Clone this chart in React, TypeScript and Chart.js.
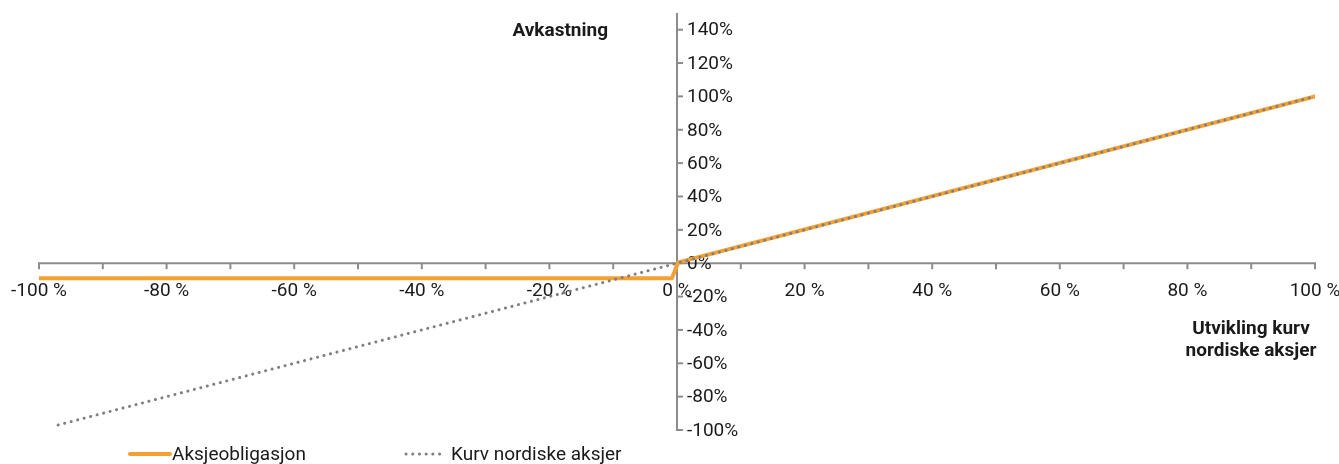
import React, { useEffect, useRef } from "react";
import { Chart, registerables } from "chart.js";

Chart.register(...registerables);

const seriesNames = ["Aksjeobligasjon", "Kurv nordiske aksjer"];
const bondX = [-100, -0.8, 0.2, 100];
const bondY = [-9, -9, 0.5, 100];
const basketX = [-97, 100];
const basketY = [-97, 100];
const xTickMarks = [-100, -90, -80, -70, -60, -50, -40, -30, -20, -10, 0, 10, 20, 30, 40, 50, 60, 70, 80, 90, 100];
const xTickLabels = [-100, -80, -60, -40, -20, 0, 20, 40, 60, 80, 100];
const yTickLabels = [-100, -80, -60, -40, -20, 0, 20, 40, 60, 80, 100, 120, 140];
const yTitle = "Avkastning";
const xTitle = ["Utvikling kurv", "nordiske aksjer"];

const ORANGE = "#F5A033";
const GRAY = "#7F7F7F";
const AXIS = "#8C8C8C";
const TEXT = "#1a1a1a";
const FONT = "Roboto, 'Noto Sans', sans-serif";

const axesPlugin = {
  id: "customAxes",
  beforeDatasetsDraw(chart: any) {
    const ctx = chart.ctx;
    const xs = chart.scales.x;
    const ys = chart.scales.y;
    const x0 = xs.getPixelForValue(0);
    const y0 = ys.getPixelForValue(0);
    ctx.save();
    ctx.strokeStyle = AXIS;
    ctx.lineWidth = 2;
    ctx.lineCap = "butt";
    // x axis line
    ctx.beginPath();
    ctx.moveTo(xs.getPixelForValue(-100) - 1, y0);
    ctx.lineTo(xs.getPixelForValue(100) + 1, y0);
    ctx.stroke();
    // x ticks (downward)
    for (const v of xTickMarks) {
      const px = xs.getPixelForValue(v);
      ctx.beginPath();
      ctx.moveTo(px, y0);
      ctx.lineTo(px, y0 + 6);
      ctx.stroke();
    }
    // y axis line
    ctx.beginPath();
    ctx.moveTo(x0, ys.top);
    ctx.lineTo(x0, ys.getPixelForValue(-100) + 1);
    ctx.stroke();
    // y ticks (to the right)
    for (const v of yTickLabels) {
      const py = ys.getPixelForValue(v);
      ctx.beginPath();
      ctx.moveTo(x0 - 1, py);
      ctx.lineTo(x0 + 6, py);
      ctx.stroke();
    }
    // labels
    ctx.fillStyle = TEXT;
    ctx.font = `19px ${FONT}`;
    ctx.textBaseline = "middle";
    ctx.textAlign = "center";
    for (const v of xTickLabels) {
      ctx.fillText(`${v} %`, xs.getPixelForValue(v), y0 + 28);
    }
    ctx.textAlign = "left";
    for (const v of yTickLabels) {
      ctx.fillText(`${v}%`, x0 + 10, ys.getPixelForValue(v) + 1);
    }
    // titles
    ctx.font = `bold 19px ${FONT}`;
    ctx.textAlign = "right";
    ctx.fillText(yTitle, x0 - 69, ys.getPixelForValue(140) + 2);
    ctx.textAlign = "center";
    ctx.fillText(xTitle[0], 1251, 329);
    ctx.fillText(xTitle[1], 1251, 351);
    ctx.restore();
  },
  afterDraw(chart: any) {
    const ctx = chart.ctx;
    ctx.save();
    const ly = 454;
    ctx.strokeStyle = ORANGE;
    ctx.lineWidth = 4;
    ctx.lineCap = "round";
    ctx.beginPath();
    ctx.moveTo(130, ly);
    ctx.lineTo(170, ly);
    ctx.stroke();
    ctx.strokeStyle = GRAY;
    ctx.lineWidth = 3;
    ctx.setLineDash([0.1, 6.6]);
    ctx.beginPath();
    ctx.moveTo(406, ly);
    ctx.lineTo(445, ly);
    ctx.stroke();
    ctx.setLineDash([]);
    ctx.fillStyle = TEXT;
    ctx.font = `19px ${FONT}`;
    ctx.textAlign = "left";
    ctx.textBaseline = "middle";
    ctx.fillText(seriesNames[0], 172, ly + 1);
    ctx.fillText(seriesNames[1], 451, ly + 1);
    ctx.restore();
  },
};

export default function App() {
  const ref = useRef<HTMLCanvasElement | null>(null);
  useEffect(() => {
    if (!ref.current) return;
    const chart = new Chart(ref.current, {
      type: "line",
      data: {
        datasets: [
          {
            label: seriesNames[0],
            data: bondX.map((x, i) => ({ x, y: bondY[i] })),
            borderColor: ORANGE,
            backgroundColor: ORANGE,
            borderWidth: 4,
            borderCapStyle: "round",
            borderJoinStyle: "round",
            pointRadius: 0,
            tension: 0,
            order: 2,
          },
          {
            label: seriesNames[1],
            data: basketX.map((x, i) => ({ x, y: basketY[i] })),
            borderColor: GRAY,
            backgroundColor: GRAY,
            borderWidth: 3,
            borderDash: [0.1, 6.6],
            borderCapStyle: "round",
            pointRadius: 0,
            tension: 0,
            order: 1,
          },
        ],
      },
      options: {
        animation: false,
        responsive: false,
        devicePixelRatio: 1,
        layout: { padding: { left: 39, right: 24, top: 13, bottom: 34 } },
        plugins: { legend: { display: false }, tooltip: { enabled: false } },
        scales: {
          x: { type: "linear", min: -100, max: 100, display: false },
          y: { type: "linear", min: -100, max: 150, display: false },
        },
      },
      plugins: [axesPlugin],
    } as any);
    return () => chart.destroy();
  }, []);
  return (
    <div style={{ position: "fixed", left: 0, top: 0, width: 1339, height: 464, background: "#fff" }}>
      <canvas ref={ref} width={1339} height={464} />
    </div>
  );
}
